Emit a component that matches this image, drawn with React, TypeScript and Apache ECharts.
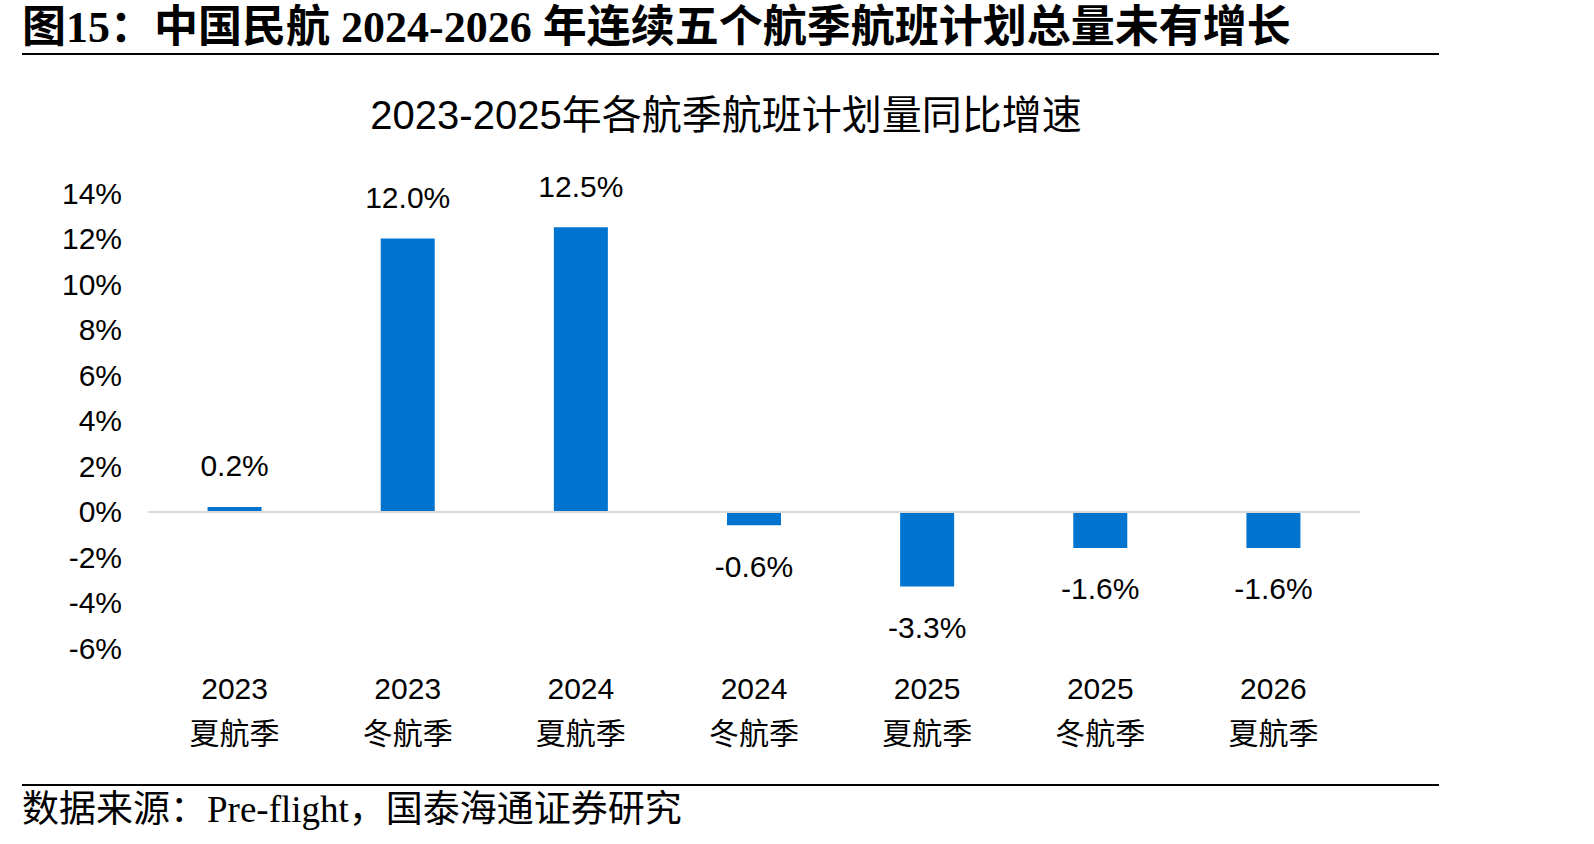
import React, { useEffect, useRef } from "react";
import * as echarts from "echarts";

const categories = [
  "2023\n夏航季",
  "2023\n冬航季",
  "2024\n夏航季",
  "2024\n冬航季",
  "2025\n夏航季",
  "2025\n冬航季",
  "2026\n夏航季",
];
const growth = [0.2, 12.0, 12.5, -0.6, -3.3, -1.6, -1.6];
const yMin = -6;
const yMax = 14;
const yStep = 2;

const figureTitle = "图15：中国民航 2024-2026 年连续五个航季航班计划总量未有增长";
const chartTitle = "2023-2025年各航季航班计划量同比增速";
const sourceText = "数据来源：Pre-flight，国泰海通证券研究";

const SANS = "'Liberation Sans Narrow', 'Liberation Sans', 'Noto Sans CJK SC', sans-serif";
const SERIF = "'Liberation Serif', 'Noto Sans CJK SC', serif";

export default function App() {
  const ref = useRef<HTMLDivElement>(null);
  useEffect(() => {
    document.body.style.margin = "0";
    const chart = echarts.init(ref.current!, null, { renderer: "svg" });
    chart.setOption({
      animation: false,
      backgroundColor: "#ffffff",
      grid: { left: 148, right: 234, top: 193, height: 455 },
      xAxis: {
        type: "category",
        data: categories,
        axisLine: { show: false, onZero: false },
        axisTick: { show: false },
        axisLabel: {
          color: "#000",
          fontSize: 30,
          lineHeight: 45,
          margin: 18,
          fontFamily: SANS,
          interval: 0,
        },
      },
      yAxis: {
        type: "value",
        min: yMin,
        max: yMax,
        interval: yStep,
        axisLine: { show: false },
        axisTick: { show: false },
        splitLine: { show: false },
        axisLabel: {
          color: "#000",
          fontSize: 30,
          margin: 26,
          fontFamily: SANS,
          formatter: (v: number) => `${v}%`,
        },
      },
      series: [
        {
          type: "bar",
          barWidth: 54,
          itemStyle: { color: "#0074CF" },
          data: growth.map((v) => ({
            value: v,
            label: { position: v < 0 ? "bottom" : "top" },
          })),
          label: {
            show: true,
            distance: 26,
            color: "#000",
            fontSize: 30,
            fontFamily: SANS,
            formatter: (p: any) => `${Number(p.value).toFixed(1)}%`,
          },
          markLine: {
            silent: true,
            symbol: ["none", "none"],
            label: { show: false },
            lineStyle: { color: "#D9D9D9", width: 2, type: "solid" },
            data: [{ yAxis: 0 }],
          },
          z: 3,
        },
      ],
      graphic: [
        {
          type: "text",
          left: 22,
          top: 5,
          style: {
            text: figureTitle,
            fontFamily: SERIF,
            fontWeight: "bold",
            fontSize: 44,
            fill: "#000",
          },
        },
        {
          type: "line",
          shape: { x1: 22, y1: 54, x2: 1439, y2: 54 },
          style: { stroke: "#000", lineWidth: 2 },
        },
        {
          type: "text",
          x: 726,
          y: 115,
          style: {
            text: chartTitle,
            fontFamily: SANS,
            fontSize: 40,
            fill: "#000",
            align: "center",
            verticalAlign: "middle",
          },
        },
        {
          type: "line",
          shape: { x1: 22, y1: 785, x2: 1439, y2: 785 },
          style: { stroke: "#000", lineWidth: 2 },
        },
        {
          type: "text",
          left: 22,
          top: 791,
          style: {
            text: sourceText,
            fontFamily: SERIF,
            fontSize: 37,
            fill: "#000",
          },
        },
      ],
    });
    return () => chart.dispose();
  }, []);
  return <div ref={ref} style={{ width: 1594, height: 844 }} />;
}
